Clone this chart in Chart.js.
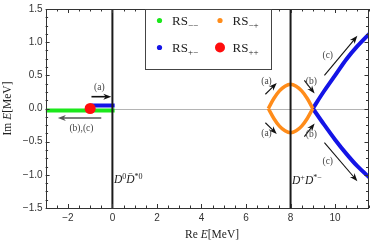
<!DOCTYPE html>
<html lang="en">
<head>
    <meta charset="UTF-8">
    <script src="https://cdnjs.cloudflare.com/ajax/libs/Chart.js/4.4.0/chart.umd.min.js"></script>
    <title>Pole trajectories</title>
    <style>
        * { margin: 0; padding: 0; box-sizing: border-box; }
        body { background: #ffffff; width: 374px; height: 245px; overflow: hidden; }
        .chart-container { position: relative; width: 374px; height: 245px; }
    </style>
</head>
<body>
    <div class="chart-container">
        <canvas id="poleChart" width="374" height="245"></canvas>
    </div>

    <script>
        // axis ticks
        const xTicks = [-2, 0, 2, 4, 6, 8, 10];
        const yTicks = [-1.5, -1, -0.5, 0, 0.5, 1, 1.5];

        // RS-- (green) and short RS+- piece near D0 D*0 threshold
        const greenX = [-3, 0.1];
        const greenY = [-0.03, -0.03];
        const blueShortX = [-0.95, 0.1];
        const blueShortY = [0.045, 0.045];
        const redX = [-1];
        const redY = [0];

        // RS-+ (orange) loop around D+ D*- threshold
        const orangeX = [7, 7.25, 7.5, 7.75, 8, 8.25, 8.5, 8.75, 9];
        const orangeUpY = [0, 0.15, 0.265, 0.335, 0.365, 0.335, 0.265, 0.15, 0];
        const orangeLoY = [0, -0.15, -0.265, -0.335, -0.365, -0.335, -0.265, -0.15, 0];

        // RS+- (blue) branches leaving x = 9
        const blueX = [9, 9.5, 10, 10.5, 11, 11.6];
        const blueUpY = [0, 0.26, 0.5, 0.74, 0.94, 1.15];
        const blueLoY = [0, -0.24, -0.47, -0.68, -0.87, -1.06];

        // threshold lines
        const thresholdX = [0, 8];

        // annotation arrows (data coords)
        const arrowFrom = [[-0.94, 0.178], [-0.5, -0.144], [6.87, 0.215], [6.87, -0.215], [8.62, 0.423], [8.62, -0.423], [9.52, 0.5], [9.52, -0.515]];
        const arrowTo = [[-0.05, 0.178], [-2.45, -0.144], [7.38, 0.385], [7.38, -0.385], [9.08, 0.225], [9.08, -0.225], [11.0, 1.095], [11.0, -1.095]];
        const arrowLabels = ['(a)', '(b),(c)', '(a)', '(a)', '(b)', '(b)', '(c)', '(c)'];
        const labelPos = [[-0.59, 0.316], [-1.39, -0.297], [6.92, 0.41], [6.92, -0.37], [8.93, 0.41], [8.93, -0.394], [9.67, 0.806], [9.67, -0.797]];

        const toPts = (xs, ys) => xs.map((x, i) => ({ x: x, y: ys[i] }));

        const SERIF = "'Liberation Serif', 'DejaVu Serif', serif";
        const SANS = "'Liberation Sans', Arial, sans-serif";

        function richText(ctx, parts, x, y) {
            let cx = x;
            parts.forEach(p => {
                ctx.font = p.font;
                ctx.fillText(p.t, cx, y + (p.dy || 0));
                cx += ctx.measureText(p.t).width + (p.gap || 0);
            });
        }

        function drawArrow(ctx, x1, y1, x2, y2, color, lw) {
            const ang = Math.atan2(y2 - y1, x2 - x1);
            const hl = 8, hw = 3;
            ctx.strokeStyle = color;
            ctx.fillStyle = color;
            ctx.lineWidth = lw;
            ctx.beginPath();
            ctx.moveTo(x1, y1);
            ctx.lineTo(x2 - Math.cos(ang) * hl * 0.6, y2 - Math.sin(ang) * hl * 0.6);
            ctx.stroke();
            ctx.beginPath();
            ctx.moveTo(x2, y2);
            ctx.lineTo(x2 - Math.cos(ang) * hl - Math.sin(ang) * hw, y2 - Math.sin(ang) * hl + Math.cos(ang) * hw);
            ctx.lineTo(x2 - Math.cos(ang) * hl * 0.7, y2 - Math.sin(ang) * hl * 0.7);
            ctx.lineTo(x2 - Math.cos(ang) * hl + Math.sin(ang) * hw, y2 - Math.sin(ang) * hl - Math.cos(ang) * hw);
            ctx.closePath();
            ctx.fill();
        }

        const decorations = {
            id: 'decorations',
            beforeDatasetsDraw(chart) {
                const { ctx, chartArea: a, scales: { y } } = chart;
                ctx.save();
                ctx.strokeStyle = '#b4b4b4';
                ctx.lineWidth = 1;
                const y0 = Math.round(y.getPixelForValue(0)) + 0.5;
                ctx.beginPath();
                ctx.moveTo(a.left, y0);
                ctx.lineTo(a.right, y0);
                ctx.stroke();
                ctx.restore();
            },
            afterDatasetsDraw(chart) {
                const { ctx, chartArea: a, scales: { x, y } } = chart;
                ctx.save();

                // threshold lines
                ctx.strokeStyle = '#1a1a1a';
                ctx.lineWidth = 2;
                thresholdX.forEach(v => {
                    const px = x.getPixelForValue(v);
                    ctx.beginPath();
                    ctx.moveTo(px, a.top);
                    ctx.lineTo(px, a.bottom);
                    ctx.stroke();
                });

                // frame
                ctx.strokeStyle = '#333';
                ctx.lineWidth = 1;
                ctx.strokeRect(Math.round(a.left) + 0.5, Math.round(a.top) + 0.5,
                    Math.round(a.right - a.left) - 1, Math.round(a.bottom - a.top));

                // inward ticks
                ctx.beginPath();
                for (let v = -3; v <= 11.5; v += 0.5) {
                    const px = Math.round(x.getPixelForValue(v)) + 0.5;
                    const len = (Math.abs(v % 2) < 1e-6) ? 4 : 2.5;
                    ctx.moveTo(px, a.bottom); ctx.lineTo(px, a.bottom - len);
                    ctx.moveTo(px, a.top); ctx.lineTo(px, a.top + len);
                }
                for (let v = -1.5; v <= 1.5001; v += 0.125) {
                    const py = Math.round(y.getPixelForValue(v)) + 0.5;
                    const len = (Math.abs((v * 2) % 1) < 1e-6) ? 4 : 2.5;
                    ctx.moveTo(a.left, py); ctx.lineTo(a.left + len, py);
                    ctx.moveTo(a.right, py); ctx.lineTo(a.right - len, py);
                }
                ctx.stroke();

                // arrows and their labels
                arrowFrom.forEach((f, i) => {
                    const t = arrowTo[i];
                    const col = i === 1 ? '#555' : '#111';
                    const lw = i < 2 ? 1.6 : 1.1;
                    drawArrow(ctx, x.getPixelForValue(f[0]), y.getPixelForValue(f[1]),
                        x.getPixelForValue(t[0]), y.getPixelForValue(t[1]), col, lw);
                });
                ctx.fillStyle = '#444';
                ctx.font = '9.5px ' + SERIF;
                ctx.textAlign = 'center';
                ctx.textBaseline = 'middle';
                arrowLabels.forEach((s, i) => {
                    ctx.fillText(s, x.getPixelForValue(labelPos[i][0]), y.getPixelForValue(labelPos[i][1]));
                });

                // threshold labels
                ctx.fillStyle = '#222';
                ctx.textAlign = 'left';
                ctx.textBaseline = 'alphabetic';
                const it = 'italic 11.5px ' + SERIF;
                const sup = '8px ' + SERIF;
                richText(ctx, [
                    { t: 'D', font: it }, { t: '0', font: sup, dy: -4 },
                    { t: 'D\u0304', font: it }, { t: '*0', font: sup, dy: -4 }
                ], x.getPixelForValue(0) + 1.5, y.getPixelForValue(-1.06) + 4);
                richText(ctx, [
                    { t: 'D', font: it }, { t: '+', font: sup, dy: -4 },
                    { t: 'D', font: it }, { t: '*\u2212', font: sup, dy: -4 }
                ], x.getPixelForValue(8) + 1.5, y.getPixelForValue(-1.08) + 4);

                // legend box
                ctx.strokeStyle = '#444';
                ctx.lineWidth = 1;
                ctx.fillStyle = '#fff';
                ctx.fillRect(145, a.top + 1, 127, 60);
                ctx.strokeRect(145.5, a.top + 0.5, 126, 60);
                const entries = [
                    { c: '#1be81b', r: 2.6, px: 159.5, py: 20.5, sub: '\u2212\u2212' },
                    { c: '#ff8c1a', r: 2.6, px: 220, py: 20.5, sub: '\u2212+' },
                    { c: '#1414e6', r: 2.6, px: 159.5, py: 47.5, sub: '+\u2212' },
                    { c: '#ff0d0d', r: 5, px: 220, py: 47.5, sub: '++' }
                ];
                entries.forEach(e => {
                    ctx.fillStyle = e.c;
                    ctx.beginPath();
                    ctx.arc(e.px, e.py, e.r, 0, Math.PI * 2);
                    ctx.fill();
                    ctx.fillStyle = '#222';
                    richText(ctx, [
                        { t: 'RS', font: '13px ' + SERIF },
                        { t: e.sub, font: '9px ' + SERIF, dy: 2.5 }
                    ], e.px + 12.5, e.py + 4.5);
                });

                // axis titles
                ctx.fillStyle = '#222';
                const rm = '11.5px ' + SERIF, ri = 'italic 11.5px ' + SERIF;
                const xt = [{ t: 'Re ', font: rm }, { t: 'E', font: ri }, { t: '[MeV]', font: rm }];
                let w = 0;
                xt.forEach(p => { ctx.font = p.font; w += ctx.measureText(p.t).width; });
                richText(ctx, xt, (a.left + a.right) / 2 + 5 - w / 2, 238);
                const yt = [{ t: 'Im ', font: rm }, { t: 'E', font: ri }, { t: '[MeV]', font: rm }];
                w = 0;
                yt.forEach(p => { ctx.font = p.font; w += ctx.measureText(p.t).width; });
                ctx.translate(11, (a.top + a.bottom) / 2);
                ctx.rotate(-Math.PI / 2);
                richText(ctx, yt, -w / 2, 0);

                ctx.restore();
            }
        };

        new Chart(document.getElementById('poleChart'), {
            type: 'scatter',
            data: {
                datasets: [
                    { label: 'RS++', data: toPts(redX, redY), showLine: false, backgroundColor: '#ff0d0d', borderWidth: 0, pointRadius: 5.5, order: -1 },
                    { label: 'RS--', data: toPts(greenX, greenY), showLine: true, borderColor: '#1be81b', borderWidth: 4, pointRadius: 0, clip: 0 },
                    { label: 'RS+- short', data: toPts(blueShortX, blueShortY), showLine: true, borderColor: '#1414e6', borderWidth: 4, pointRadius: 0, clip: 0 },
                    { label: 'RS-+ up', data: toPts(orangeX, orangeUpY), showLine: true, borderColor: '#ff8c1a', borderWidth: 3.5, pointRadius: 0, tension: 0.35, clip: 0 },
                    { label: 'RS-+ low', data: toPts(orangeX, orangeLoY), showLine: true, borderColor: '#ff8c1a', borderWidth: 3.5, pointRadius: 0, tension: 0.35, clip: 0 },
                    { label: 'RS+- up', data: toPts(blueX, blueUpY), showLine: true, borderColor: '#1414e6', borderWidth: 4, pointRadius: 0, tension: 0.3, clip: 0 },
                    { label: 'RS+- low', data: toPts(blueX, blueLoY), showLine: true, borderColor: '#1414e6', borderWidth: 4, pointRadius: 0, tension: 0.3, clip: 0 }
                ]
            },
            options: {
                responsive: false,
                animation: false,
                devicePixelRatio: 1,
                layout: { padding: { left: 0, top: 6, right: 1, bottom: 0 } },
                plugins: { legend: { display: false }, tooltip: { enabled: false } },
                scales: {
                    x: {
                        type: 'linear',
                        min: -3,
                        max: 11.5,
                        grid: { display: false, drawTicks: false },
                        border: { display: false },
                        afterFit(scale) { scale.height = 37; },
                        afterBuildTicks(scale) { scale.ticks = xTicks.map(v => ({ value: v })); },
                        ticks: {
                            padding: 4,
                            color: '#333',
                            font: { family: SANS, size: 10 },
                            maxRotation: 0,
                            callback: v => String(v).replace('-', '\u2212')
                        }
                    },
                    y: {
                        type: 'linear',
                        min: -1.5,
                        max: 1.5,
                        grid: { display: false, drawTicks: false },
                        border: { display: false },
                        afterFit(scale) { scale.width = 45.6; },
                        afterBuildTicks(scale) { scale.ticks = yTicks.map(v => ({ value: v })); },
                        ticks: {
                            padding: 3,
                            color: '#333',
                            font: { family: SANS, size: 10 },
                            callback: v => Number(v).toFixed(1).replace('-', '\u2212')
                        }
                    }
                }
            },
            plugins: [decorations]
        });
    </script>
</body>
</html>
